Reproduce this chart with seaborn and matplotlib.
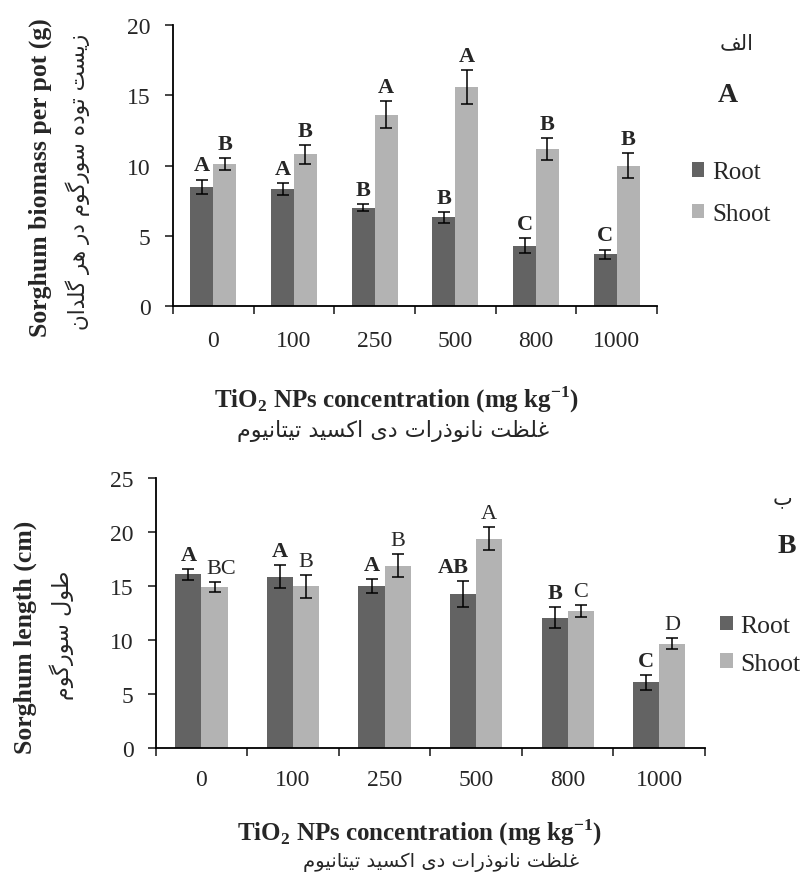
import numpy as np
import pandas as pd
import seaborn as sns
import matplotlib
matplotlib.use("Agg")
import matplotlib.pyplot as plt

doses = ["0", "100", "250", "500", "800", "1000"]
parts = ["Root", "Shoot"]

# panel A - biomass per pot (g)
biomass_root = [8.5, 8.3, 7.0, 6.3, 4.3, 3.7]
biomass_shoot = [10.1, 10.8, 13.6, 15.6, 11.2, 10.0]
biomass_root_err = [0.5, 0.43, 0.27, 0.41, 0.52, 0.32]
biomass_shoot_err = [0.4, 0.66, 0.96, 1.2, 0.78, 0.91]
biomass_root_grp = ["A", "A", "B", "B", "C", "C"]
biomass_shoot_grp = ["B", "B", "A", "A", "B", "B"]

# panel B - length (cm)
length_root = [16.1, 15.9, 15.0, 14.3, 12.1, 6.1]
length_shoot = [14.9, 15.0, 16.9, 19.4, 12.7, 9.7]
length_root_err = [0.53, 1.1, 0.63, 1.2, 0.95, 0.66]
length_shoot_err = [0.46, 1.05, 1.05, 1.06, 0.55, 0.53]
length_root_grp = ["A", "A", "A", "AB", "B", "C"]
length_shoot_grp = ["BC", "B", "B", "A", "C", "D"]

colors = {"Root": "#636363", "Shoot": "#b3b3b3"}

# matplotlib does no arabic shaping, so pick the presentation forms by hand
# (isolated, final, initial, medial); two-form letters never join to the left
FORMS = {
    "ا": "\ufe8d\ufe8e", "د": "\ufea9\ufeaa", "ذ": "\ufeab\ufeac",
    "ر": "\ufead\ufeae", "ز": "\ufeaf\ufeb0", "و": "\ufeed\ufeee",
    "ب": "\ufe8f\ufe90\ufe91\ufe92", "ت": "\ufe95\ufe96\ufe97\ufe98",
    "س": "\ufeb1\ufeb2\ufeb3\ufeb4", "ط": "\ufec1\ufec2\ufec3\ufec4",
    "ظ": "\ufec5\ufec6\ufec7\ufec8", "غ": "\ufecd\ufece\ufecf\ufed0",
    "ف": "\ufed1\ufed2\ufed3\ufed4", "ل": "\ufedd\ufede\ufedf\ufee0",
    "م": "\ufee1\ufee2\ufee3\ufee4", "ن": "\ufee5\ufee6\ufee7\ufee8",
    "ه": "\ufee9\ufeea\ufeeb\ufeec", "ی": "\ufbfc\ufbfd\ufbfe\ufbff",
    "ک": "\ufb8e\ufb8f\ufb90\ufb91", "گ": "\ufb92\ufb93\ufb94\ufb95",
}


def fa(text):
    out = []
    for i, ch in enumerate(text):
        f = FORMS.get(ch)
        if f is None:
            out.append(ch)
            continue
        prev = text[i - 1] if i > 0 else " "
        nxt = text[i + 1] if i + 1 < len(text) else " "
        join_prev = len(FORMS.get(prev, "")) == 4
        join_next = len(f) == 4 and nxt in FORMS
        if join_prev and join_next:
            out.append(f[3])
        elif join_prev:
            out.append(f[1])
        elif join_next:
            out.append(f[2])
        else:
            out.append(f[0])
    return "".join(reversed(out))


sns.set_theme(style="ticks")
plt.rcParams["font.family"] = ["Liberation Serif", "DejaVu Sans"]
plt.rcParams["mathtext.fontset"] = "custom"
plt.rcParams["mathtext.rm"] = "Liberation Serif:bold"
plt.rcParams["mathtext.bf"] = "Liberation Serif:bold"

W, H = 803, 879
fig = plt.figure(figsize=(W / 100, H / 100), dpi=100)


def px(x, y):
    return x / W, 1 - y / H


def panel(ax, root, shoot, errs, groups, ymax, shoot_bold, xpad, leg_xy, leg_fs, leg_sp):
    df = pd.DataFrame({
        "dose": doses * 2,
        "part": ["Root"] * len(doses) + ["Shoot"] * len(doses),
        "value": root + shoot,
    })
    sns.barplot(data=df, x="dose", y="value", hue="part", order=doses,
                hue_order=parts, palette=colors, width=0.57, gap=0,
                errorbar=None, saturation=1, linewidth=0, ax=ax)

    weights = ["bold", "bold" if shoot_bold else "normal"]
    for cont, err, grp, wt in zip(ax.containers, errs, groups, weights):
        for bar, e, g in zip(cont, err, grp):
            x = bar.get_x() + bar.get_width() / 2
            h = bar.get_height()
            ax.errorbar(x, h, yerr=e, fmt="none", ecolor="black",
                        elinewidth=1.1, capsize=4.5, capthick=1.1)
            # two-letter groups sit a little off-centre in the original
            dx = {"AB": -7, "BC": 5}.get(g, 0)
            ax.annotate(g, (x, h + e), xytext=(dx, 3), textcoords="offset points",
                        ha="center", va="bottom", fontsize=16, fontweight=wt)

    ax.set_ylim(0, ymax)
    ax.set_yticks(np.arange(0, ymax + 1, 5))
    ax.set_xlim(-0.5, len(doses) - 0.5)
    ax.set_xticks(range(len(doses)), doses)
    ax.set_xticks(np.arange(-0.5, len(doses), 1), minor=True)
    ax.tick_params(axis="x", which="major", length=0, pad=xpad, labelsize=17)
    ax.tick_params(axis="x", which="minor", length=6, width=1.2, direction="out")
    ax.tick_params(axis="y", length=6, width=1.2, pad=10, labelsize=17)
    ax.set_xlabel("")
    ax.set_ylabel("")
    sns.despine(ax=ax)
    for s in ["left", "bottom"]:
        ax.spines[s].set_linewidth(1.3)
        ax.spines[s].set_color("black")

    handles, labels = ax.get_legend_handles_labels()
    ax.legend(handles, labels, loc="center left", bbox_to_anchor=px(*leg_xy),
              bbox_transform=fig.transFigure, frameon=False, fontsize=leg_fs,
              handlelength=0.5, handleheight=0.5, handletextpad=0.3,
              labelspacing=leg_sp, borderpad=0, borderaxespad=0)


axA = fig.add_axes([173 / W, 1 - 307 / H, 484 / W, 281 / H])
panel(axA, biomass_root, biomass_shoot, [biomass_root_err, biomass_shoot_err],
      [biomass_root_grp, biomass_shoot_grp], 20, True, 17, (692, 194), 18, 0.78)

axB = fig.add_axes([155.7 / W, 1 - 749.3 / H, 549.3 / W, 270 / H])
panel(axB, length_root, length_shoot, [length_root_err, length_shoot_err],
      [length_root_grp, length_shoot_grp], 25, False, 15, (720, 646), 18.5, 0.6)

xlab = r"TiO$_\mathbf{2}$ NPs concentration (mg kg$^\mathbf{-1}$)"
xlab_fa = fa("غلظت نانوذرات دی اکسید تیتانیوم")

# panel A labels
fig.text(*px(40, 178), "Sorghum biomass per pot (g)", rotation=90, ha="center",
         va="center", fontsize=18.5, fontweight="bold")
fig.text(*px(78, 182), fa("زیست توده سورگوم در هر گلدان"), rotation=90,
         ha="center", va="center", fontsize=15.5, family="DejaVu Sans")
fig.text(*px(396, 400), xlab, ha="center", va="center", fontsize=18, fontweight="bold")
fig.text(*px(393, 431), xlab_fa, ha="center", va="center", fontsize=16,
         family="DejaVu Sans")
fig.text(*px(737, 43), fa("الف"), ha="center", va="center", fontsize=15,
         family="DejaVu Sans")
fig.text(*px(728, 96), "A", ha="center", va="center", fontsize=20, fontweight="bold")

# panel B labels
fig.text(*px(25, 637), "Sorghum length (cm)", rotation=90, ha="center",
         va="center", fontsize=18.5, fontweight="bold")
fig.text(*px(62, 635), fa("طول سورگوم"), rotation=90, ha="center", va="center",
         fontsize=16, family="DejaVu Sans")
fig.text(*px(419, 833), xlab, ha="center", va="center", fontsize=18, fontweight="bold")
fig.text(*px(441, 862), xlab_fa, ha="center", va="center", fontsize=14,
         family="DejaVu Sans")
fig.text(*px(783, 498), fa("ب"), ha="center", va="center", fontsize=15,
         family="DejaVu Sans")
fig.text(*px(787, 547), "B", ha="center", va="center", fontsize=20, fontweight="bold")

fig.savefig("out.png", dpi=100)
